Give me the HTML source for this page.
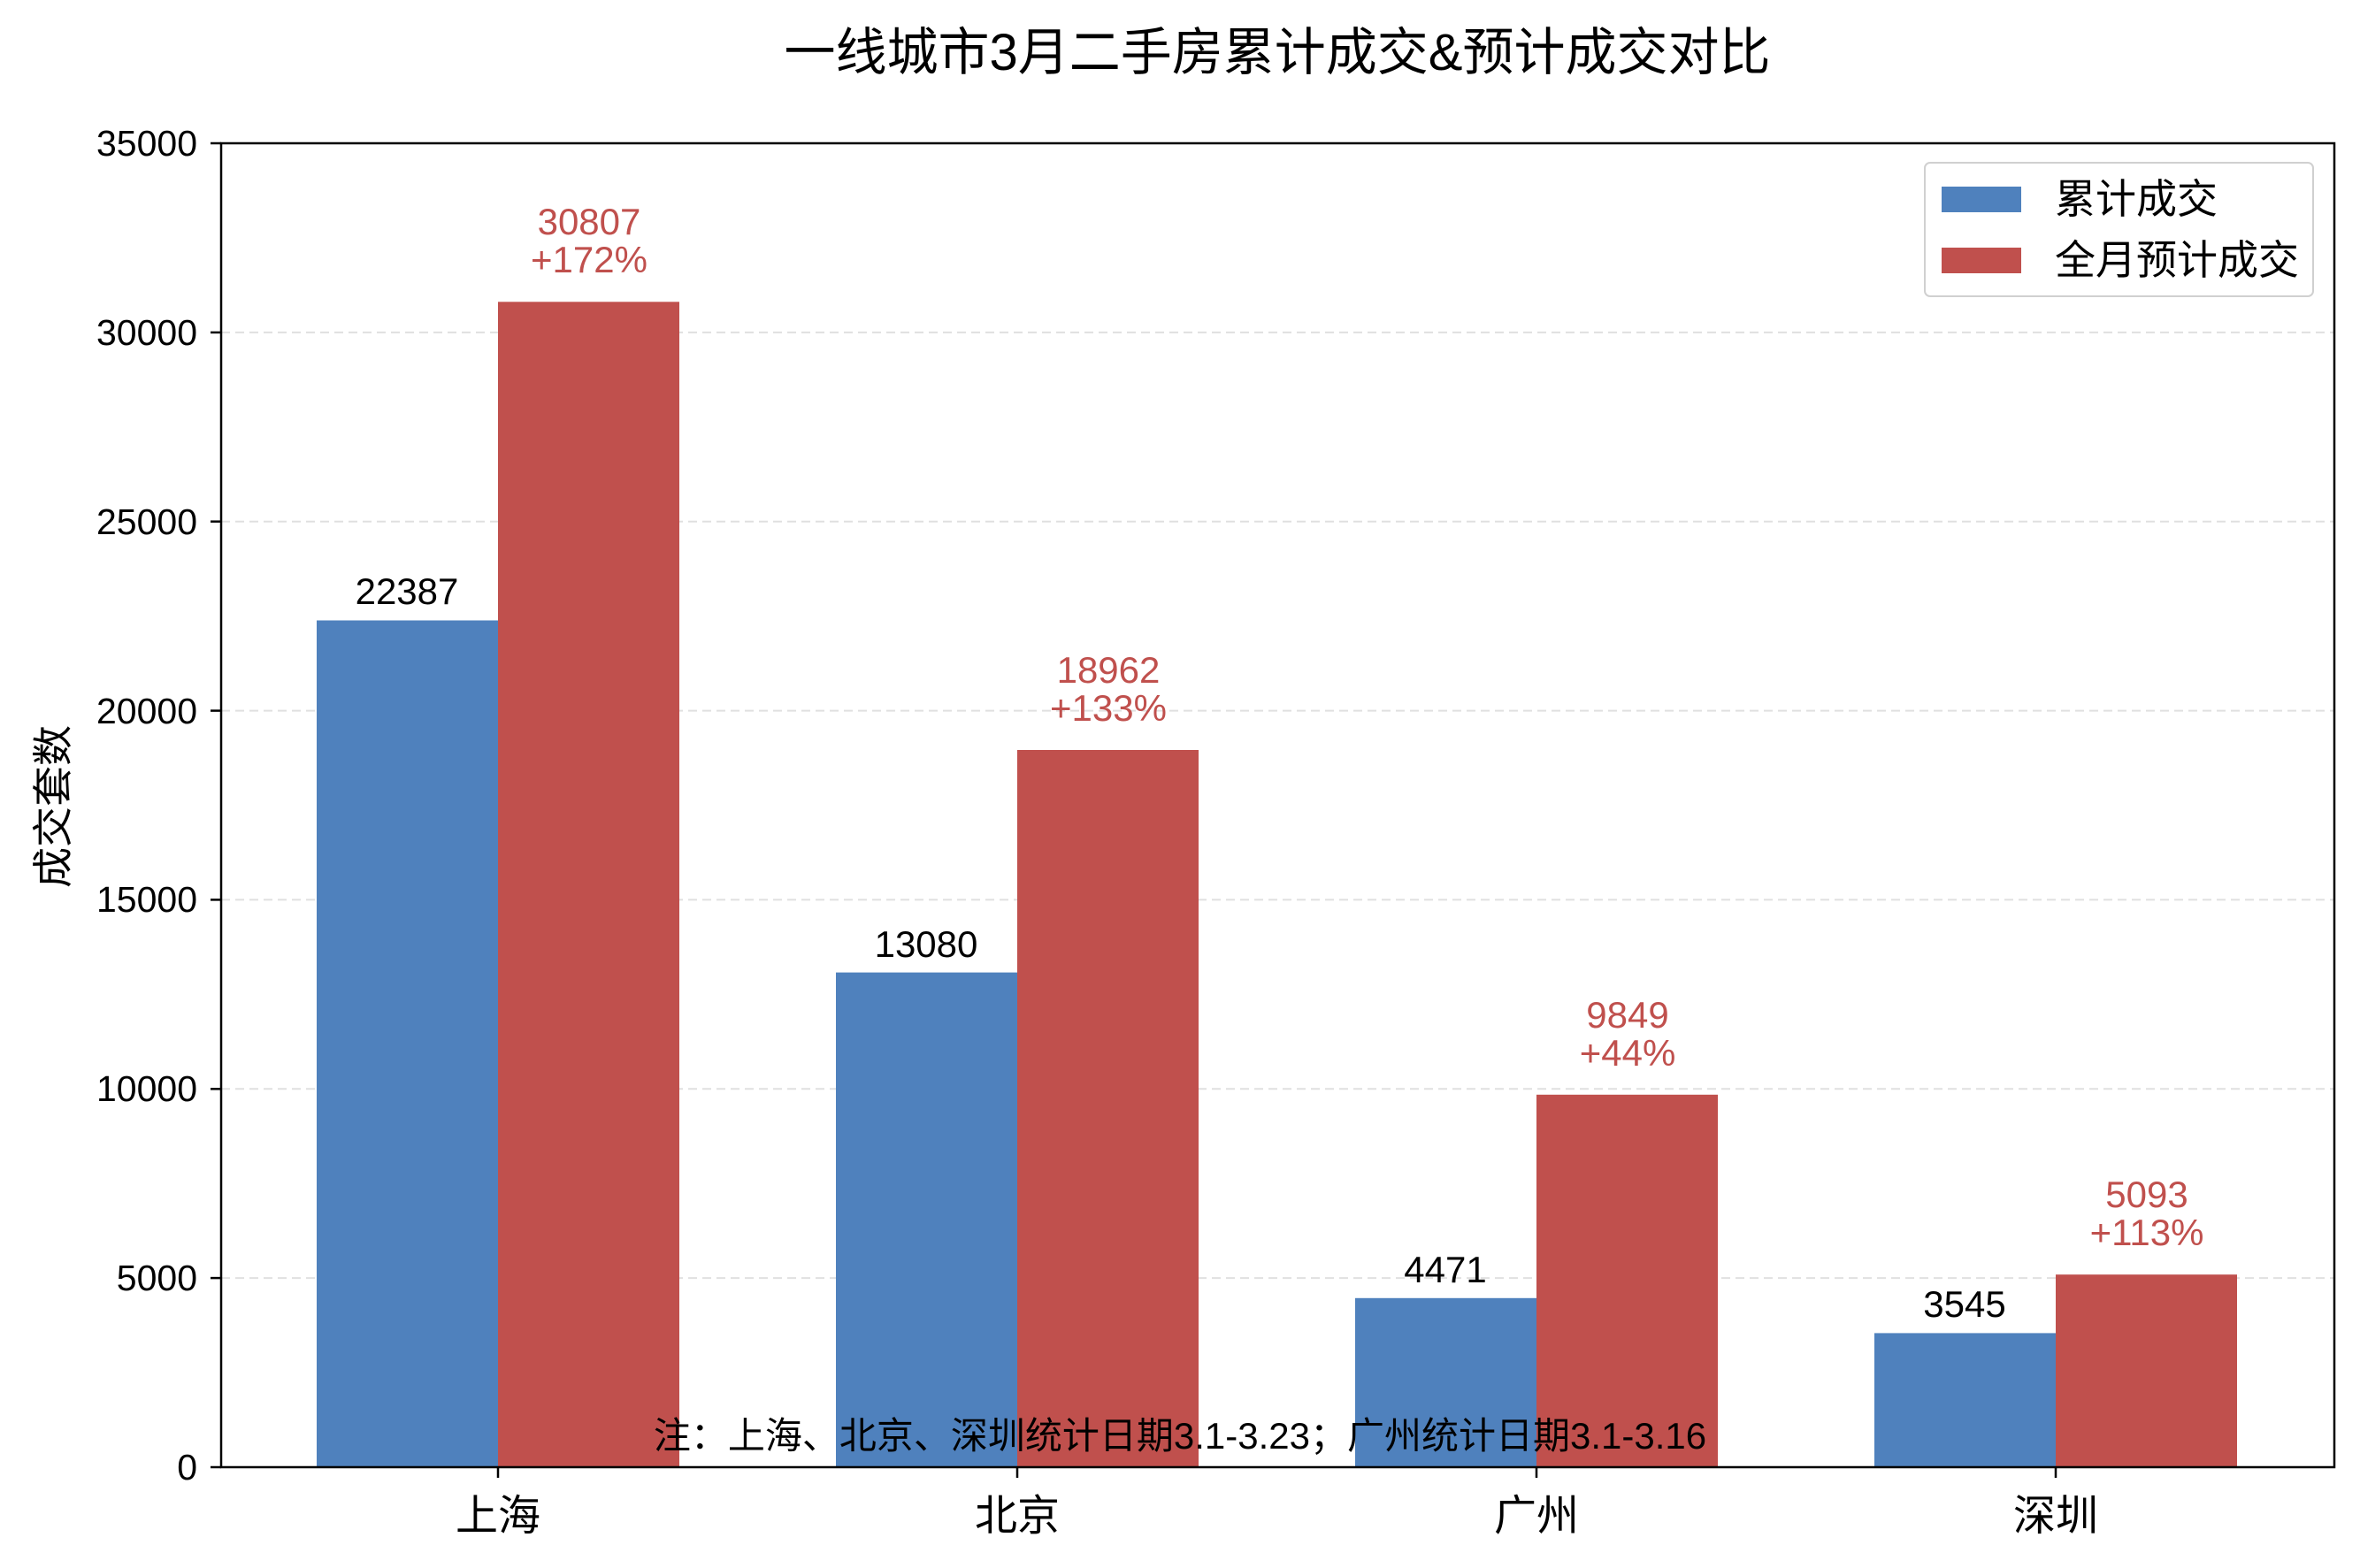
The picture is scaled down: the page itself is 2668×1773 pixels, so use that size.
<!DOCTYPE html>
<html><head><meta charset="utf-8"><style>
html,body{margin:0;padding:0;background:#fff}
svg text{font-family:"Liberation Sans","Noto Sans CJK SC",sans-serif}
</style></head><body>
<svg width="2668" height="1768" viewBox="0 0 2668 1768" xmlns="http://www.w3.org/2000/svg">
<rect width="2668" height="1768" fill="#fff"/>
<g stroke="#e0e0e0" stroke-width="2" stroke-dasharray="10,6">
<line x1="250" x2="2639" y1="1445.1" y2="1445.1"/>
<line x1="250" x2="2639" y1="1231.3" y2="1231.3"/>
<line x1="250" x2="2639" y1="1017.4" y2="1017.4"/>
<line x1="250" x2="2639" y1="803.6" y2="803.6"/>
<line x1="250" x2="2639" y1="589.7" y2="589.7"/>
<line x1="250" x2="2639" y1="375.9" y2="375.9"/>
</g>
<g fill="#4f81bd">
<rect x="358" y="701.5" width="205" height="957.5"/>
<rect x="945" y="1099.6" width="205" height="559.4"/>
<rect x="1532" y="1467.8" width="205" height="191.2"/>
<rect x="2119" y="1507.4" width="205" height="151.6"/>
</g>
<g fill="#c0504d">
<rect x="563" y="341.3" width="205" height="1317.7"/>
<rect x="1150" y="848" width="205" height="811"/>
<rect x="1737" y="1237.8" width="205" height="421.2"/>
<rect x="2324" y="1441.2" width="205" height="217.8"/>
</g>
<rect x="250" y="162" width="2389" height="1497" fill="none" stroke="#000" stroke-width="2.5"/>
<g stroke="#000" stroke-width="2.5">
<line x1="238" x2="250" y1="1659" y2="1659"/><line x1="238" x2="250" y1="1445.1" y2="1445.1"/>
<line x1="238" x2="250" y1="1231.3" y2="1231.3"/><line x1="238" x2="250" y1="1017.4" y2="1017.4"/>
<line x1="238" x2="250" y1="803.6" y2="803.6"/><line x1="238" x2="250" y1="589.7" y2="589.7"/>
<line x1="238" x2="250" y1="375.9" y2="375.9"/><line x1="238" x2="250" y1="162" y2="162"/>
<line x1="563" x2="563" y1="1659" y2="1671"/><line x1="1150" x2="1150" y1="1659" y2="1671"/>
<line x1="1737" x2="1737" y1="1659" y2="1671"/><line x1="2324" x2="2324" y1="1659" y2="1671"/>
</g>
<g font-size="41" text-anchor="end" fill="#000">
<text x="223" y="1673">0</text><text x="223" y="1459">5000</text><text x="223" y="1245">10000</text>
<text x="223" y="1031">15000</text><text x="223" y="818">20000</text><text x="223" y="604">25000</text>
<text x="223" y="390">30000</text><text x="223" y="176">35000</text>
</g>
<g font-size="48" text-anchor="middle" fill="#000">
<text x="563" y="1730">上海</text><text x="1150" y="1730">北京</text>
<text x="1737" y="1730">广州</text><text x="2324" y="1730">深圳</text>
</g>
<text x="1444" y="79" font-size="58" text-anchor="middle">一线城市3月二手房累计成交&amp;预计成交对比</text>
<text transform="translate(76,912) rotate(-90)" font-size="46" text-anchor="middle">成交套数</text>
<g font-size="42" text-anchor="middle" fill="#000">
<text x="460" y="683">22387</text><text x="1047" y="1082">13080</text>
<text x="1634" y="1450">4471</text><text x="2221" y="1489">3545</text>
</g>
<g font-size="42" text-anchor="middle" fill="#c0504d">
<text x="666" y="265">30807</text><text x="666" y="308">+172%</text>
<text x="1253" y="772">18962</text><text x="1253" y="815">+133%</text>
<text x="1840" y="1162">9849</text><text x="1840" y="1205">+44%</text>
<text x="2427" y="1365">5093</text><text x="2427" y="1408">+113%</text>
</g>
<text x="1334" y="1638" font-size="42" text-anchor="middle">注：上海、北京、深圳统计日期3.1-3.23；广州统计日期3.1-3.16</text>
<rect x="2176" y="184" width="439" height="151" rx="6" fill="#fff" fill-opacity="0.8" stroke="#d0d0d0" stroke-width="2"/>
<rect x="2195" y="211" width="90" height="29" fill="#4f81bd"/>
<rect x="2195" y="280" width="90" height="29" fill="#c0504d"/>
<text x="2323" y="241" font-size="46">累计成交</text>
<text x="2323" y="310" font-size="46">全月预计成交</text>
</svg>
</body></html>
